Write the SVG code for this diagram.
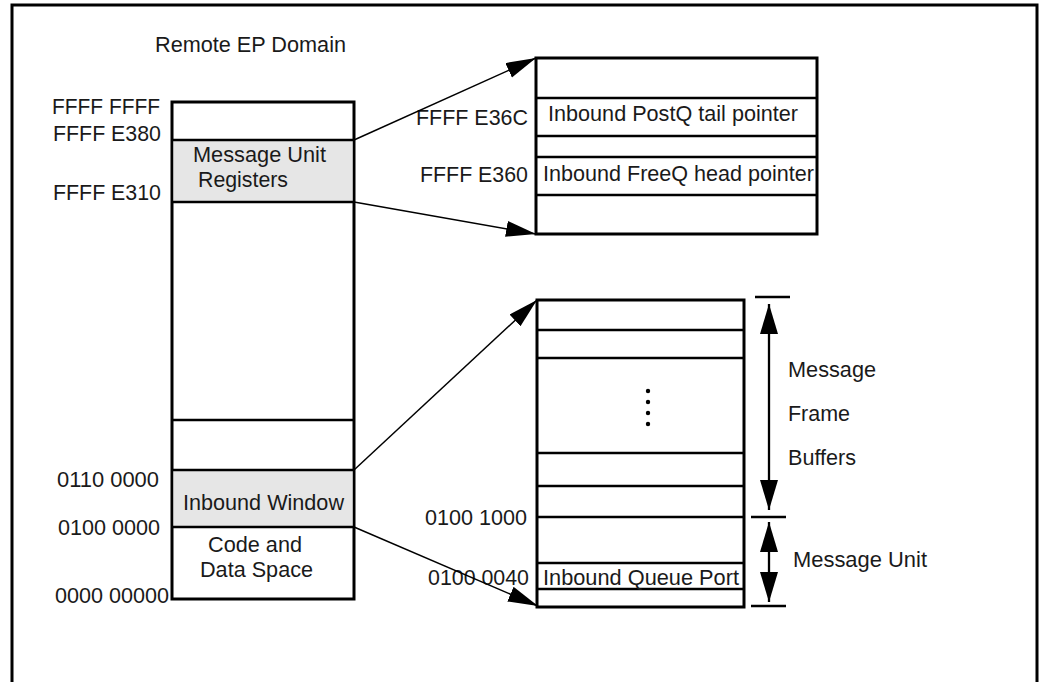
<svg xmlns="http://www.w3.org/2000/svg" width="1042" height="682" viewBox="0 0 1042 682">
<style>
.t{font-family:"Liberation Sans",Arial,sans-serif;font-size:22.5px;fill:#1a1a1a}
.box{fill:#fff;stroke:#000;stroke-width:3}
.div{stroke:#000;stroke-width:2.3;fill:none}
.grey{fill:#e6e6e6}
.conn{stroke:#000;stroke-width:1.5;fill:none}
.dim{stroke:#000;stroke-width:2.3;fill:none}
</style>
<defs>
<marker id="ah" markerUnits="userSpaceOnUse" markerWidth="32" markerHeight="18" refX="30" refY="8" orient="auto" viewBox="0 0 32 18">
<path d="M0,0 L30,8 L0,16 z" fill="#000"/>
</marker>
<marker id="dh" markerUnits="userSpaceOnUse" markerWidth="32" markerHeight="20" refX="30" refY="9" orient="auto-start-reverse" viewBox="0 0 32 20">
<path d="M0,0 L30,9 L0,18 z" fill="#000"/>
</marker>
</defs>
<rect width="1042" height="682" fill="#fff"/>
<path d="M12,682 V5 H1037 V682" fill="none" stroke="#000" stroke-width="3"/>
<text class="t" x="155" y="52" textLength="191" lengthAdjust="spacingAndGlyphs">Remote EP Domain</text>

<g id="remote-memory">
<rect class="box" x="172" y="102" width="182" height="497"/>
<rect class="grey" x="173.5" y="140" width="179" height="62"/>
<rect class="grey" x="173.5" y="470" width="179" height="57"/>
<path class="div" d="M172,140 H354 M172,202 H354 M172,420 H354 M172,470 H354 M172,527 H354"/>
<text class="t" x="193" y="162" textLength="133" lengthAdjust="spacingAndGlyphs">Message Unit</text>
<text class="t" x="198" y="187" textLength="90" lengthAdjust="spacingAndGlyphs">Registers</text>
<text class="t" x="183" y="510" textLength="161" lengthAdjust="spacingAndGlyphs">Inbound Window</text>
<text class="t" x="208" y="552" textLength="94" lengthAdjust="spacingAndGlyphs">Code and</text>
<text class="t" x="200" y="577" textLength="113" lengthAdjust="spacingAndGlyphs">Data Space</text>
<text class="t" x="52" y="114" textLength="108" lengthAdjust="spacingAndGlyphs">FFFF FFFF</text>
<text class="t" x="53" y="141" textLength="108" lengthAdjust="spacingAndGlyphs">FFFF E380</text>
<text class="t" x="53" y="200" textLength="108" lengthAdjust="spacingAndGlyphs">FFFF E310</text>
<text class="t" x="57" y="487" textLength="102" lengthAdjust="spacingAndGlyphs">0110 0000</text>
<text class="t" x="58" y="535" textLength="102" lengthAdjust="spacingAndGlyphs">0100 0000</text>
<text class="t" x="55" y="603" textLength="114" lengthAdjust="spacingAndGlyphs">0000 00000</text>
</g>

<g id="message-unit-registers">
<rect class="box" x="536" y="58" width="281" height="176"/>
<path class="div" d="M536,98 H817 M536,136 H817 M536,157 H817 M536,195 H817"/>
<text class="t" x="548" y="121" textLength="250" lengthAdjust="spacingAndGlyphs">Inbound PostQ tail pointer</text>
<text class="t" x="543" y="181" textLength="271" lengthAdjust="spacingAndGlyphs">Inbound FreeQ head pointer</text>
<text class="t" x="416" y="125" textLength="112" lengthAdjust="spacingAndGlyphs">FFFF E36C</text>
<text class="t" x="420" y="182" textLength="108" lengthAdjust="spacingAndGlyphs">FFFF E360</text>
</g>

<g id="inbound-window">
<rect class="box" x="537" y="300" width="207" height="307"/>
<path class="div" d="M537,330 H744 M537,358 H744 M537,453 H744 M537,486 H744 M537,517 H744 M537,563 H744 M537,589 H744"/>
<circle cx="648" cy="391" r="2.2"/>
<circle cx="648" cy="402" r="2.2"/>
<circle cx="648" cy="413" r="2.2"/>
<circle cx="648" cy="424" r="2.2"/>
<text class="t" x="543" y="585" textLength="196" lengthAdjust="spacingAndGlyphs">Inbound Queue Port</text>
<text class="t" x="425" y="525" textLength="102" lengthAdjust="spacingAndGlyphs">0100 1000</text>
<text class="t" x="428" y="585" textLength="101" lengthAdjust="spacingAndGlyphs">0100 0040</text>
</g>

<g id="message-frame-buffers-dim">
<path class="dim" d="M755,297 H790 M751,517 H786 M751,606 H786"/>
<path class="dim" d="M769,304 V510" marker-start="url(#dh)" marker-end="url(#dh)"/>
<text class="t" x="788" y="377" textLength="88" lengthAdjust="spacingAndGlyphs">Message</text>
<text class="t" x="788" y="421" textLength="62" lengthAdjust="spacingAndGlyphs">Frame</text>
<text class="t" x="788" y="465" textLength="68" lengthAdjust="spacingAndGlyphs">Buffers</text>
</g>

<g id="message-unit-dim">
<path class="dim" d="M769,522 V602" marker-start="url(#dh)" marker-end="url(#dh)"/>
<text class="t" x="793" y="567" textLength="134" lengthAdjust="spacingAndGlyphs">Message Unit</text>
</g>

<g id="connectors">
<path class="conn" d="M354,140 L536,58" marker-end="url(#ah)"/>
<path class="conn" d="M354,202 L536,234" marker-end="url(#ah)"/>
<path class="conn" d="M354,470 L537,300" marker-end="url(#ah)"/>
<path class="conn" d="M354,527 L538,606" marker-end="url(#ah)"/>
</g>
</svg>
